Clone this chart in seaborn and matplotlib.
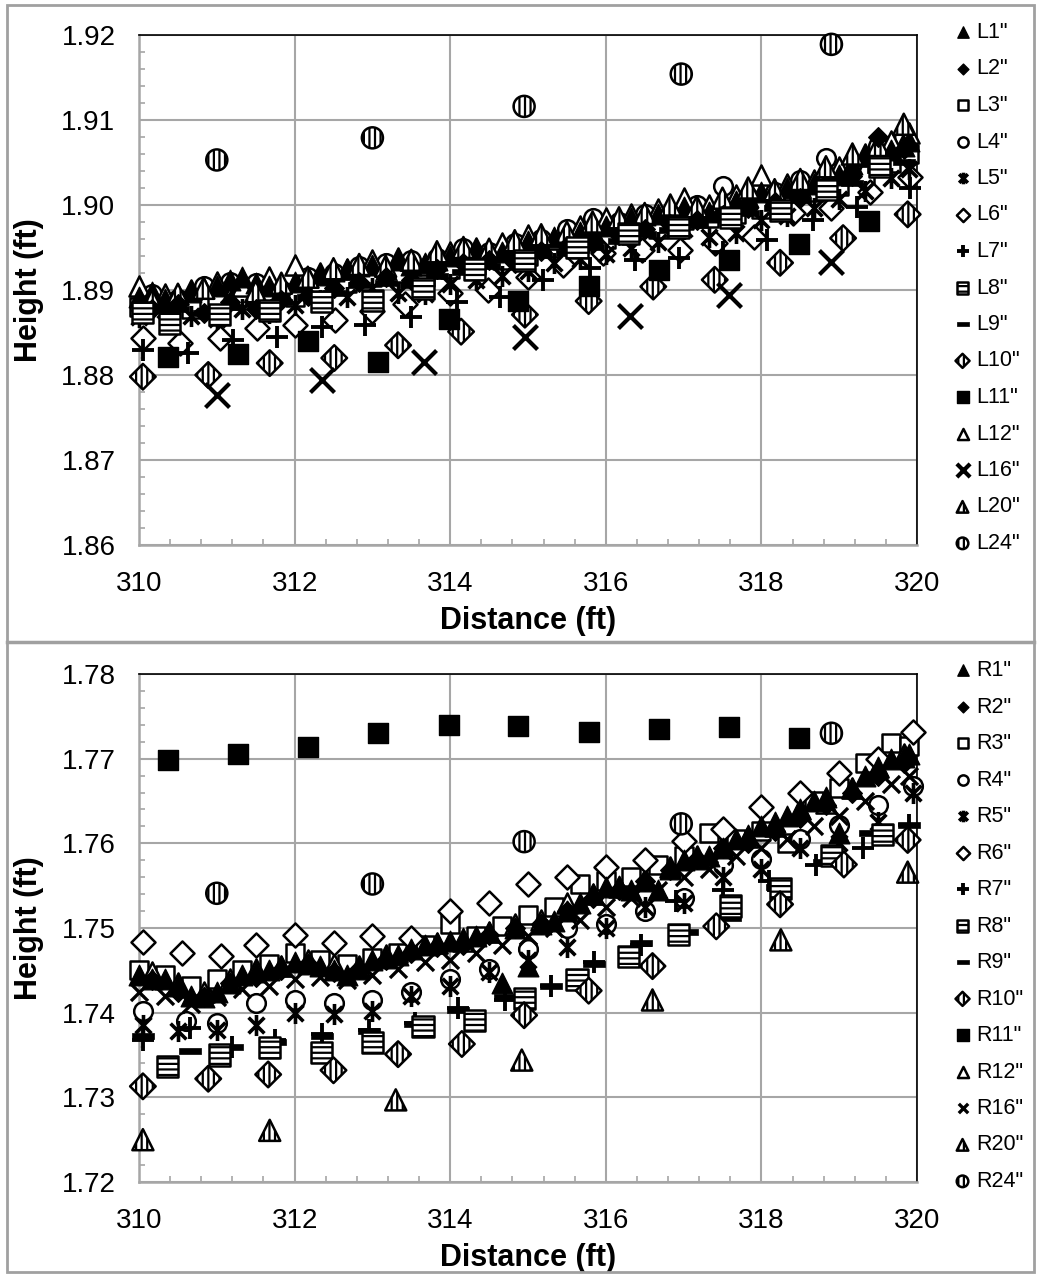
import numpy as np
import pandas as pd
import matplotlib
matplotlib.use("Agg")
import matplotlib.pyplot as plt
import seaborn as sns
from matplotlib.path import Path
from matplotlib.ticker import MultipleLocator, FormatStrFormatter
from matplotlib.lines import Line2D
from matplotlib.patches import Rectangle

plt.rcParams['font.family'] = ['Liberation Sans', 'DejaVu Sans']
plt.rcParams['hatch.linewidth'] = 1.6
plt.rcParams['hatch.color'] = 'black'

# ---------------- shared x positions for dense series ----------------
XA = [310.00, 310.33, 310.67, 311.00, 311.33, 311.67, 312.00, 312.33, 312.67, 313.00,
      313.33, 313.67, 314.00, 314.33, 314.67, 315.00, 315.33, 315.67, 316.00, 316.33,
      316.67, 317.00, 317.33, 317.67, 318.00, 318.33, 318.67, 319.00, 319.33, 319.67, 319.90]
XB = [310.17, 310.50, 310.83, 311.17, 311.50, 311.83, 312.17, 312.50, 312.83, 313.17,
      313.50, 313.83, 314.17, 314.50, 314.83, 315.17, 315.50, 315.83, 316.17, 316.50,
      316.83, 317.17, 317.50, 317.83, 318.17, 318.50, 318.83, 319.17, 319.50, 319.83]
XF = [310.00, 310.17, 310.33, 310.50, 310.67, 310.83, 311.00, 311.17, 311.33, 311.50,
      311.67, 311.83, 312.00, 312.17, 312.33, 312.50, 312.67, 312.83, 313.00, 313.17,
      313.33, 313.50, 313.67, 313.83, 314.00, 314.17, 314.33, 314.50, 314.67, 314.83,
      315.00, 315.17, 315.33, 315.50, 315.67, 315.83, 316.00, 316.17, 316.33, 316.50,
      316.67, 316.83, 317.00, 317.17, 317.33, 317.50, 317.67, 317.83, 318.00, 318.17,
      318.33, 318.50, 318.67, 318.83, 319.00, 319.17, 319.33, 319.50, 319.67, 319.83, 319.90]

# ---------------- top panel (left) ----------------
L1_y = [1.8892, 1.8898, 1.8890, 1.8895, 1.8898, 1.8902, 1.8905, 1.8912, 1.8915, 1.8908,
        1.8905, 1.8900, 1.8910, 1.8915, 1.8918, 1.8922, 1.8925, 1.8928, 1.8930, 1.8925,
        1.8935, 1.8930, 1.8932, 1.8935, 1.8940, 1.8942, 1.8948, 1.8945, 1.8945, 1.8952,
        1.8958, 1.8955, 1.8962, 1.8965, 1.8968, 1.8970, 1.8975, 1.8980, 1.8985, 1.8988,
        1.8990, 1.8995, 1.8998, 1.8995, 1.8992, 1.9000, 1.9005, 1.9010, 1.9015, 1.9012,
        1.9020, 1.9022, 1.9025, 1.9030, 1.9035, 1.9048, 1.9058, 1.9062, 1.9065, 1.9070, 1.9075]
L2_y = [1.8878, 1.8883, 1.8873, 1.8886, 1.8878, 1.8888, 1.8893, 1.8902, 1.8910, 1.8915,
        1.8912, 1.8925, 1.8932, 1.8935, 1.8932, 1.8946, 1.8952, 1.8955, 1.8965, 1.8972,
        1.8978, 1.8982, 1.8988, 1.8996, 1.9004, 1.9008, 1.9016, 1.9034, 1.9080, 1.9066]
L3_y = [1.8880, 1.8885, 1.8878, 1.8885, 1.8888, 1.8890, 1.8892, 1.8900, 1.8908, 1.8915,
        1.8920, 1.8915, 1.8925, 1.8930, 1.8935, 1.8940, 1.8950, 1.8955, 1.8960, 1.8965,
        1.8972, 1.8982, 1.8985, 1.8990, 1.8995, 1.9002, 1.9015, 1.9022, 1.9035, 1.9050, 1.9060]
L4_y = [1.8895, 1.8890, 1.8905, 1.8910, 1.8908, 1.8900, 1.8915, 1.8920, 1.8928, 1.8932,
        1.8935, 1.8938, 1.8950, 1.8945, 1.8955, 1.8960, 1.8972, 1.8985, 1.8980, 1.8990,
        1.8985, 1.9000, 1.9022, 1.9010, 1.9015, 1.9030, 1.9055, 1.9048, 1.9070, 1.9080]
L5_y = [1.8868, 1.8876, 1.8870, 1.8866, 1.8878, 1.8873, 1.8882, 1.8888, 1.8892, 1.8902,
        1.8897, 1.8895, 1.8907, 1.8912, 1.8917, 1.8922, 1.8932, 1.8937, 1.8942, 1.8950,
        1.8957, 1.8972, 1.8962, 1.8967, 1.8982, 1.8987, 1.8997, 1.9007, 1.9017, 1.9032, 1.9042]
L6_x = [310.05, 310.53, 311.04, 311.52, 312.0, 312.52, 313.0, 313.42, 314.0, 314.49, 315.0,
        315.45, 315.96, 316.47, 316.95, 317.4, 317.9, 318.4, 318.9, 319.4, 319.91]
L6_y = [1.8844, 1.8838, 1.8844, 1.8855, 1.8859, 1.8865, 1.8875, 1.8884, 1.8896, 1.8900, 1.8915,
        1.8929, 1.8944, 1.8947, 1.8947, 1.8955, 1.8962, 1.8991, 1.8996, 1.9015, 1.9033]
L7_x = [310.05, 310.63, 311.21, 311.77, 312.35, 312.9, 313.5, 314.09, 314.64, 315.19, 315.8,
        316.37, 316.94, 317.5, 318.07, 318.66, 319.23, 319.91]
L7_y = [1.8829, 1.8826, 1.8841, 1.8845, 1.8856, 1.8859, 1.8868, 1.8886, 1.8892, 1.8912, 1.8926,
        1.8935, 1.8938, 1.8945, 1.8959, 1.8982, 1.8998, 1.9020]
L8_x = [310.05, 310.39, 311.04, 311.68, 312.35, 313.0, 313.65, 314.31, 314.96, 315.63, 316.29,
        316.94, 317.6, 318.24, 318.84, 319.52]
L8_y = [1.8874, 1.8861, 1.8871, 1.8876, 1.8886, 1.8888, 1.8902, 1.8924, 1.8935, 1.8950, 1.8967,
        1.8973, 1.8985, 1.8994, 1.9018, 1.9045]
L9_y = [1.8876, 1.8878, 1.8873, 1.8880, 1.8883, 1.8886, 1.8892, 1.8897, 1.8906, 1.8908,
        1.8906, 1.8916, 1.8921, 1.8928, 1.8936, 1.8941, 1.8944, 1.8951, 1.8958, 1.8966,
        1.8971, 1.8976, 1.8984, 1.8991, 1.8996, 1.9006, 1.9016, 1.9026, 1.9041, 1.9051]
L10_x = [310.05, 310.89, 311.68, 312.51, 313.33, 314.14, 314.96, 315.78, 316.61, 317.4,
         318.24, 319.05, 319.88]
L10_y = [1.8798, 1.8800, 1.8814, 1.8820, 1.8835, 1.8851, 1.8871, 1.8887, 1.8904, 1.8912,
         1.8932, 1.8961, 1.8989]
L11_x = [310.37, 311.27, 312.17, 313.07, 313.98, 314.87, 315.78, 316.68, 317.58, 318.48, 319.38]
L11_y = [1.8821, 1.8825, 1.8840, 1.8815, 1.8866, 1.8887, 1.8905, 1.8924, 1.8935, 1.8954, 1.8981]
L12_y = [1.8905, 1.8895, 1.8900, 1.8910, 1.8905, 1.8915, 1.8930, 1.8920, 1.8925, 1.8935,
         1.8938, 1.8930, 1.8945, 1.8950, 1.8955, 1.8965, 1.8960, 1.8975, 1.8985, 1.8990,
         1.8995, 1.9008, 1.9000, 1.9012, 1.9035, 1.9025, 1.9030, 1.9045, 1.9060, 1.9075, 1.9085]
L16_x = [311.0, 312.35, 313.66, 314.96, 316.31, 317.58, 318.9]
L16_y = [1.8776, 1.8794, 1.8815, 1.8845, 1.8869, 1.8894, 1.8933]
L20_y = [1.8888, 1.8895, 1.8902, 1.8890, 1.8898, 1.8908, 1.8915, 1.8925, 1.8930, 1.8928,
         1.8935, 1.8945, 1.8950, 1.8948, 1.8958, 1.8965, 1.8968, 1.8980, 1.8985, 1.8990,
         1.9000, 1.8998, 1.9008, 1.9020, 1.9018, 1.9030, 1.9045, 1.9060, 1.9070, 1.9095]
L24_x = [311.0, 313.0, 314.95, 316.97, 318.9]
L24_y = [1.9053, 1.9079, 1.9116, 1.9154, 1.9189]

# ---------------- bottom panel (right) ----------------
R1_y = [1.7445, 1.7440, 1.7440, 1.7432, 1.7420, 1.7418, 1.7425, 1.7435, 1.7445, 1.7448,
        1.7450, 1.7455, 1.7460, 1.7458, 1.7455, 1.7450, 1.7445, 1.7452, 1.7462, 1.7465,
        1.7468, 1.7475, 1.7480, 1.7482, 1.7485, 1.7488, 1.7490, 1.7495, 1.7435, 1.7500,
        1.7455, 1.7505, 1.7508, 1.7520, 1.7530, 1.7540, 1.7548, 1.7550, 1.7545, 1.7555,
        1.7545, 1.7570, 1.7580, 1.7582, 1.7585, 1.7595, 1.7605, 1.7610, 1.7620, 1.7625,
        1.7632, 1.7640, 1.7650, 1.7655, 1.7612, 1.7665, 1.7680, 1.7690, 1.7700, 1.7702, 1.7705]
R2_y = [1.7438, 1.7425, 1.7418, 1.7435, 1.7442, 1.7450, 1.7458, 1.7448, 1.7452, 1.7462,
        1.7470, 1.7478, 1.7480, 1.7492, 1.7500, 1.7505, 1.7520, 1.7535, 1.7545, 1.7555,
        1.7568, 1.7582, 1.7595, 1.7600, 1.7615, 1.7630, 1.7645, 1.7660, 1.7680, 1.7695]
R3_y = [1.7450, 1.7445, 1.7432, 1.7440, 1.7450, 1.7458, 1.7470, 1.7462, 1.7458, 1.7465,
        1.7470, 1.7480, 1.7505, 1.7490, 1.7502, 1.7515, 1.7525, 1.7552, 1.7555, 1.7560,
        1.7575, 1.7585, 1.7612, 1.7605, 1.7615, 1.7600, 1.7650, 1.7665, 1.7695, 1.7718, 1.7715]
R4_x = [310.05, 310.6, 311.0, 311.5, 312.0, 312.5, 313.0, 313.5, 314.0, 314.5, 315.0, 315.5,
        316.0, 316.5, 317.0, 317.5, 318.0, 318.5, 319.0, 319.5, 319.95]
R4_y = [1.7402, 1.7390, 1.7388, 1.7412, 1.7415, 1.7412, 1.7415, 1.7425, 1.7440, 1.7452, 1.7475,
        1.7500, 1.7505, 1.7520, 1.7535, 1.7575, 1.7582, 1.7605, 1.7622, 1.7645, 1.7668]
R5_x = [310.05, 310.5, 311.0, 311.5, 312.0, 312.5, 313.0, 313.5, 314.0, 314.5, 315.0, 315.5,
        316.0, 316.5, 317.0, 317.5, 318.0, 318.5, 319.0, 319.5, 319.95]
R5_y = [1.7385, 1.7378, 1.7380, 1.7385, 1.7400, 1.7398, 1.7402, 1.7420, 1.7432, 1.7448, 1.7462,
        1.7478, 1.7500, 1.7525, 1.7530, 1.7560, 1.7570, 1.7595, 1.7600, 1.7625, 1.7660]
R6_x = [310.05, 310.55, 311.05, 311.5, 312.0, 312.5, 313.0, 313.5, 314.0, 314.5, 315.0, 315.5,
        316.0, 316.5, 317.0, 317.5, 318.0, 318.5, 319.0, 319.5, 319.95]
R6_y = [1.7483, 1.7470, 1.7467, 1.7480, 1.7492, 1.7482, 1.7490, 1.7488, 1.7520, 1.7530, 1.7552,
        1.7560, 1.7572, 1.7580, 1.7603, 1.7617, 1.7643, 1.7660, 1.7683, 1.7700, 1.7732]
R7_x = [310.05, 310.65, 311.2, 311.75, 312.35, 312.95, 313.55, 314.1, 314.7, 315.3, 315.85,
        316.45, 316.9, 317.5, 318.1, 318.7, 319.3, 319.9]
R7_y = [1.7368, 1.7382, 1.7360, 1.7368, 1.7375, 1.7380, 1.7388, 1.7405, 1.7415, 1.7432, 1.7460,
        1.7480, 1.7532, 1.7545, 1.7555, 1.7575, 1.7595, 1.7622]
R8_x = [310.37, 311.04, 311.68, 312.35, 313.0, 313.65, 314.31, 314.96, 315.63, 316.29, 316.94,
        317.6, 318.24, 318.9, 319.56]
R8_y = [1.7336, 1.7350, 1.7359, 1.7353, 1.7365, 1.7384, 1.7391, 1.7417, 1.7439, 1.7466, 1.7492,
        1.7526, 1.7547, 1.7586, 1.7610]
R9_x = [310.05, 310.65, 311.2, 311.75, 312.35, 312.95, 313.55, 314.1, 314.7, 315.3, 315.85,
        316.45, 317.05, 317.6, 318.2, 318.8, 319.4, 319.9]
R9_y = [1.7372, 1.7355, 1.7360, 1.7365, 1.7372, 1.7378, 1.7387, 1.7403, 1.7418, 1.7432, 1.7458,
        1.7482, 1.7495, 1.7512, 1.7548, 1.7578, 1.7612, 1.7622]
R10_x = [310.05, 310.89, 311.66, 312.5, 313.33, 314.15, 314.95, 315.78, 316.6, 317.42, 318.24,
         319.06, 319.88]
R10_y = [1.7313, 1.7322, 1.7327, 1.7332, 1.7351, 1.7363, 1.7397, 1.7426, 1.7455, 1.7502, 1.7528,
         1.7575, 1.7604]
R11_x = [310.37, 311.27, 312.17, 313.07, 313.98, 314.87, 315.78, 316.68, 317.58, 318.48]
R11_y = [1.7698, 1.7706, 1.7714, 1.7730, 1.7740, 1.7739, 1.7732, 1.7735, 1.7737, 1.7724]
R12_y = [1.7448, 1.7435, 1.7425, 1.7440, 1.7452, 1.7455, 1.7462, 1.7458, 1.7455, 1.7468,
         1.7478, 1.7482, 1.7485, 1.7495, 1.7505, 1.7510, 1.7530, 1.7540, 1.7548, 1.7558,
         1.7572, 1.7585, 1.7598, 1.7608, 1.7620, 1.7640, 1.7648, 1.7665, 1.7690, 1.7705]
R16_y = [1.7425, 1.7420, 1.7410, 1.7418, 1.7428, 1.7432, 1.7440, 1.7442, 1.7438, 1.7445,
         1.7452, 1.7460, 1.7462, 1.7470, 1.7480, 1.7490, 1.7500, 1.7510, 1.7525, 1.7535,
         1.7545, 1.7560, 1.7570, 1.7585, 1.7595, 1.7605, 1.7620, 1.7632, 1.7650, 1.7670, 1.7680]
R20_x = [310.05, 311.68, 313.3, 314.92, 316.6, 318.25, 319.88]
R20_y = [1.7250, 1.7261, 1.7297, 1.7344, 1.7415, 1.7486, 1.7566]
R24_x = [311.0, 313.0, 314.95, 316.97, 318.9]
R24_y = [1.7541, 1.7552, 1.7602, 1.7623, 1.7730]

TOP_SERIES = [("L1\"", XF, L1_y, "tri_f"), ("L2\"", XB, L2_y, "dia_f"), ("L3\"", XA, L3_y, "sq_o"),
              ("L4\"", XB, L4_y, "circ_o"), ("L5\"", XA, L5_y, "star"), ("L6\"", L6_x, L6_y, "dia_o"),
              ("L7\"", L7_x, L7_y, "plus"), ("L8\"", L8_x, L8_y, "sq_h"), ("L9\"", XB, L9_y, "dash"),
              ("L10\"", L10_x, L10_y, "dia_v"), ("L11\"", L11_x, L11_y, "sq_f"),
              ("L12\"", XA, L12_y, "tri_o"), ("L16\"", L16_x, L16_y, "x"),
              ("L20\"", XB, L20_y, "tri_v"), ("L24\"", L24_x, L24_y, "circ_v")]
BOT_SERIES = [("R1\"", XF, R1_y, "tri_f"), ("R2\"", XB, R2_y, "dia_f"), ("R3\"", XA, R3_y, "sq_o"),
              ("R4\"", R4_x, R4_y, "circ_o"), ("R5\"", R5_x, R5_y, "star"), ("R6\"", R6_x, R6_y, "dia_o"),
              ("R7\"", R7_x, R7_y, "plus"), ("R8\"", R8_x, R8_y, "sq_h"), ("R9\"", R9_x, R9_y, "dash"),
              ("R10\"", R10_x, R10_y, "dia_v"), ("R11\"", R11_x, R11_y, "sq_f"),
              ("R12\"", XB, R12_y, "tri_o"), ("R16\"", XA, R16_y, "x_s"),
              ("R20\"", R20_x, R20_y, "tri_v"), ("R24\"", R24_x, R24_y, "circ_v")]

# ---------------- marker styles ----------------
M, L_, C = Path.MOVETO, Path.LINETO, Path.CLOSEPOLY
STAR = Path([(-0.75, -0.75), (0.75, 0.75), (-0.75, 0.75), (0.75, -0.75), (0, -1.0), (0, 1.0)],
            [M, L_, M, L_, M, L_])
DASH = Path([(-1, -0.3), (1, -0.3), (1, 0.3), (-1, 0.3), (-1, -0.3)], [M, L_, L_, L_, C])

STYLES = {
    "tri_f": dict(marker="^", color="black", edgecolor="black", s=220, linewidth=1.0, zorder=3.4),
    "dia_f": dict(marker="D", color="black", edgecolor="black", s=100, linewidth=1.0, zorder=3.5),
    "sq_o": dict(marker="s", color="white", edgecolor="black", s=170, linewidth=1.8, zorder=3.0),
    "circ_o": dict(marker="o", color="white", edgecolor="black", s=180, linewidth=1.8, zorder=3.0),
    "star": dict(marker=STAR, color="black", edgecolor="black", s=230, linewidth=2.6, zorder=3.3),
    "dia_o": dict(marker="D", color="white", edgecolor="black", s=150, linewidth=1.8, zorder=3.1),
    "plus": dict(marker="+", color="black", s=260, linewidth=2.8, zorder=3.6),
    "sq_h": dict(marker="s", color="white", edgecolor="black", s=230, linewidth=1.8, hatch="---",
                 zorder=3.7),
    "dash": dict(marker=DASH, color="black", edgecolor="black", s=230, linewidth=0.5, zorder=3.5),
    "dia_v": dict(marker="D", color="white", edgecolor="black", s=170, linewidth=1.8, hatch="|||",
                  zorder=3.7),
    "sq_f": dict(marker="s", color="black", edgecolor="black", s=220, linewidth=1.0, zorder=3.8),
    "tri_o": dict(marker="^", color="white", edgecolor="black", s=210, linewidth=1.8, zorder=3.0),
    "x": dict(marker="x", color="black", s=300, linewidth=3.0, zorder=3.8),
    "x_s": dict(marker="x", color="black", s=150, linewidth=2.4, zorder=3.2),
    "tri_v": dict(marker="^", color="white", edgecolor="black", s=230, linewidth=1.8, hatch="|||",
                  zorder=3.45),
    "circ_v": dict(marker="o", color="white", edgecolor="black", s=230, linewidth=1.8, hatch="|||",
                   zorder=3.9),
}

W, H = 1037, 1275
fig = plt.figure(figsize=(W / 100, H / 100), dpi=100)
fig.patch.set_facecolor("white")

GRID = "#a6a6a6"


def draw_panel(rect, series, ylim, leg_top):
    ax = fig.add_axes(rect)
    handles = []
    for name, xs, ys, sty in series:
        df = pd.DataFrame({"x": xs, "y": ys})
        kw = dict(STYLES[sty])
        sns.scatterplot(data=df, x="x", y="y", ax=ax, legend=False, clip_on=False, **kw)
        handles.append(ax.collections[-1])
    ax.set_xlim(310, 320)
    ax.set_ylim(*ylim)
    ax.xaxis.set_major_locator(MultipleLocator(2))
    ax.xaxis.set_minor_locator(MultipleLocator(0.4))
    ax.yaxis.set_major_locator(MultipleLocator(0.01))
    ax.yaxis.set_minor_locator(MultipleLocator(0.002))
    ax.yaxis.set_major_formatter(FormatStrFormatter("%.2f"))
    ax.grid(True, which="major", color=GRID, linewidth=1.5, zorder=0)
    ax.set_axisbelow(True)
    ax.tick_params(which="major", length=0, labelsize=20, colors="black")
    ax.tick_params(axis="x", which="major", pad=19)
    ax.tick_params(axis="y", which="major", pad=17)
    ax.tick_params(which="minor", direction="in", length=4, width=1.2, color=GRID)
    for side in ("left", "bottom"):
        ax.spines[side].set_color(GRID)
        ax.spines[side].set_linewidth(1.8)
    for side in ("top", "right"):
        ax.spines[side].set_color("black")
        ax.spines[side].set_linewidth(1.2)
    ax.set_xlabel("Distance (ft)", fontsize=22, fontweight="bold")
    ax.set_ylabel("Height (ft)", fontsize=22, fontweight="bold")
    ax.xaxis.set_label_coords(0.5, -0.12)
    ax.yaxis.set_label_coords(-0.122, 0.5)
    fig.legend(handles=handles, labels=[s[0] for s in series], loc="upper left",
               bbox_to_anchor=(955 / W, leg_top), frameon=False, fontsize=15.5,
               markerscale=0.55, handlelength=0.7, handletextpad=0.3,
               labelspacing=0.72, borderpad=0, borderaxespad=0, scatterpoints=1)
    return ax


draw_panel([139 / W, 1 - 545 / H, 778 / W, 510 / H], TOP_SERIES, (1.86, 1.92), 1 - 22 / H)
draw_panel([139 / W, 1 - 1182 / H, 778 / W, 508 / H], BOT_SERIES, (1.72, 1.78), 1 - 660 / H)

# outer frame and separator
fig.add_artist(Rectangle((7 / W, 1 - 1272 / H), 1027 / W, 1267 / H, transform=fig.transFigure,
                         fill=False, edgecolor="#a0a0a0", linewidth=2))
fig.add_artist(Line2D([7 / W, 1034 / W], [1 - 642 / H, 1 - 642 / H], transform=fig.transFigure,
                      color="#a0a0a0", linewidth=2.5))

fig.savefig("out.png", dpi=100, facecolor="white")
